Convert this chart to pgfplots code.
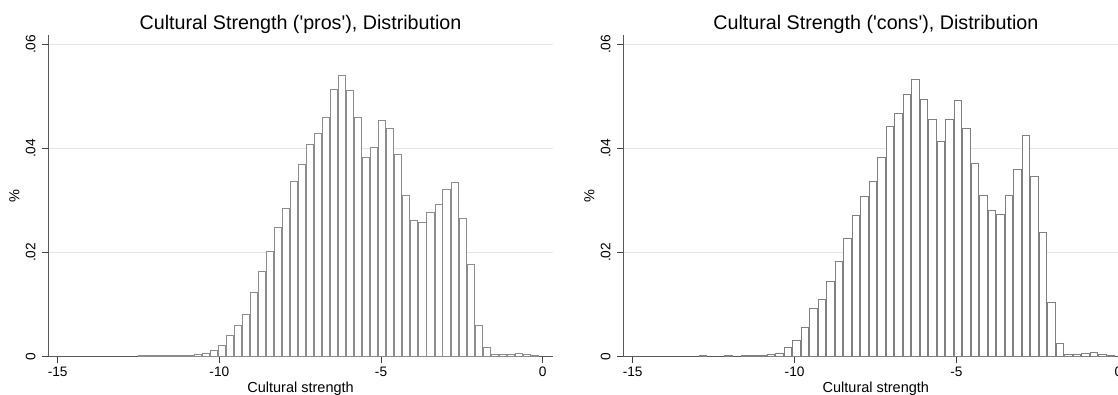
\documentclass[border=0pt]{standalone}
\usepackage{pgfplots}
\pgfplotsset{compat=1.18}
\usepackage{fontspec}
\setmainfont{Liberation Sans}

\pgfplotstableread{
x y
-12.394 0.0002
-12.146 0.0002
-11.898 0.0002
-11.651 0.0002
-11.403 0.0002
-11.155 0.0002
-10.907 0.0002
-10.659 0.0003
-10.412 0.0006
-10.164 0.0012
-9.916 0.0022
-9.668 0.0040
-9.420 0.0060
-9.173 0.0081
-8.925 0.0123
-8.677 0.0163
-8.429 0.0201
-8.181 0.0249
-7.934 0.0285
-7.686 0.0337
-7.438 0.0370
-7.190 0.0408
-6.942 0.0428
-6.695 0.0459
-6.447 0.0513
-6.199 0.0541
-5.951 0.0511
-5.703 0.0459
-5.456 0.0382
-5.208 0.0402
-4.960 0.0454
-4.712 0.0438
-4.464 0.0388
-4.217 0.0309
-3.969 0.0261
-3.721 0.0257
-3.473 0.0276
-3.225 0.0292
-2.978 0.0322
-2.730 0.0335
-2.482 0.0265
-2.234 0.0176
-1.986 0.0060
-1.739 0.0017
-1.491 0.0004
-1.243 0.0003
-0.995 0.0003
-0.747 0.0005
-0.500 0.0003
-0.252 0.0002
}\pros

\pgfplotstableread{
x y
-12.824 0.0002
-12.037 0.0002
-11.512 0.0002
-11.250 0.0002
-10.988 0.0002
-10.725 0.0003
-10.463 0.0006
-10.200 0.0017
-9.938 0.0031
-9.676 0.0055
-9.413 0.0092
-9.151 0.0110
-8.888 0.0145
-8.626 0.0183
-8.364 0.0227
-8.101 0.0272
-7.839 0.0307
-7.576 0.0336
-7.314 0.0382
-7.052 0.0442
-6.789 0.0467
-6.527 0.0504
-6.264 0.0533
-6.002 0.0494
-5.740 0.0455
-5.477 0.0414
-5.215 0.0456
-4.952 0.0492
-4.690 0.0438
-4.428 0.0371
-4.165 0.0309
-3.903 0.0280
-3.640 0.0274
-3.378 0.0310
-3.116 0.0359
-2.853 0.0424
-2.591 0.0347
-2.328 0.0238
-2.066 0.0103
-1.804 0.0025
-1.541 0.0004
-1.279 0.0003
-1.016 0.0005
-0.754 0.0007
-0.492 0.0003
-0.229 0.0002
}\cons

\pgfplotsset{
  statastyle/.style={
    scale only axis,
    height=321.5pt,
    xmin=-15.29, xmax=0.31,
    ymin=0, ymax=0.0618,
    scaled y ticks=false,
    axis x line*=bottom,
    axis y line*=left,
    axis line style={draw=black!65, line width=1pt},
    tick align=outside,
    major tick length=6pt,
    tick style={draw=black!75, line width=0.8pt},
    xtick={-15,-10,-5,0},
    xticklabels={-15,-10,-5,0},
    ytick={0,0.02,0.04,0.06},
    yticklabels={0,.02,.04,.06},
    ymajorgrids,
    grid style={draw=black!10, line width=0.8pt},
    tick label style={font=\fontsize{13.7}{16}\selectfont},
    xticklabel style={anchor=base, yshift=-14pt},
    yticklabel style={rotate=90, anchor=base, yshift=7pt},
    label style={font=\fontsize{14.5}{17}\selectfont},
    xlabel={Cultural strength},
    xlabel style={at={(axis description cs:0.5,0)}, anchor=base, yshift=-36pt},
    ylabel={\%},
    ylabel style={at={(axis description cs:-0.0674,0.5)}, anchor=center},
    title style={font=\fontsize{19.7}{22}\selectfont, at={(axis description cs:0.5,1)}, anchor=base, yshift=-1pt},
    ybar,
    clip=false,
  }
}

\begin{document}
\begin{tikzpicture}[x=1pt,y=1pt]
\path[use as bounding box] (0,0) rectangle (1118,394);
\begin{axis}[statastyle,
  width=504.5pt,
  at={(48.3pt,37.5pt)}, anchor=south west,
  title={Cultural Strength (\textquotesingle pros\textquotesingle), Distribution},
  bar width=0.218]
\addplot[fill=white, draw=black!45, line width=0.9pt] table[x=x,y=y] {\pros};
\end{axis}
\begin{axis}[statastyle,
  width=505.1pt,
  at={(623.3pt,37.5pt)}, anchor=south west,
  title={Cultural Strength (\textquotesingle cons\textquotesingle), Distribution},
  bar width=0.231]
\addplot[fill=white, draw=black!50, line width=0.9pt] table[x=x,y=y] {\cons};
\end{axis}
\end{tikzpicture}
\end{document}
